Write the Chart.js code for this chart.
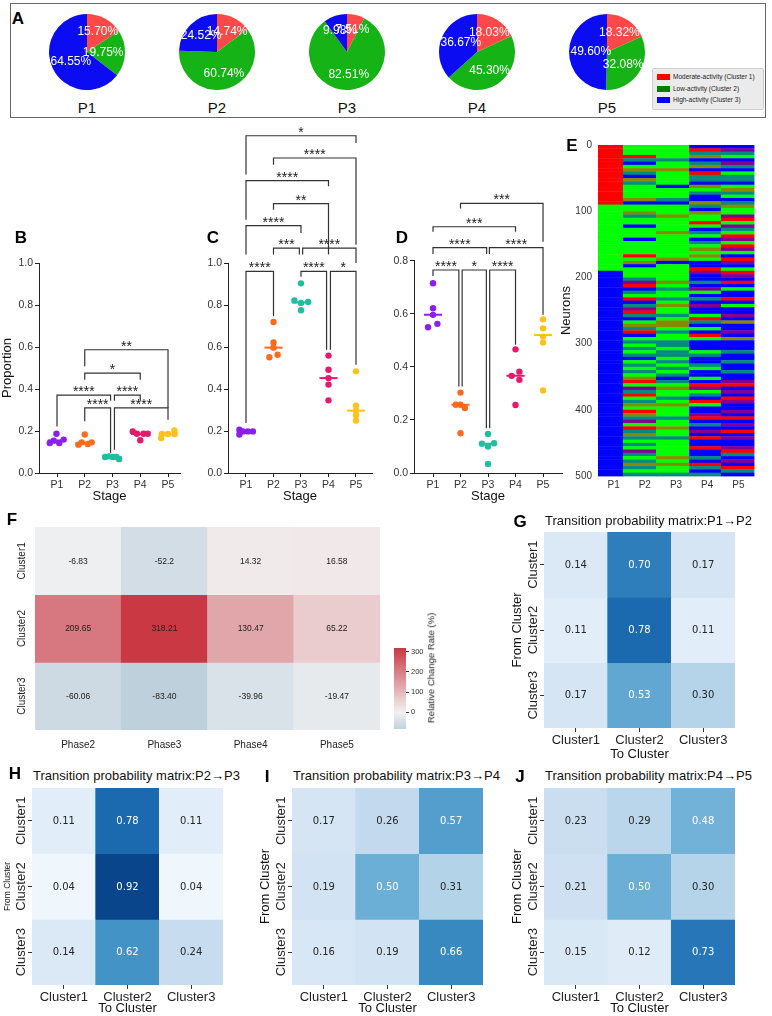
<!DOCTYPE html>
<html><head><meta charset="utf-8">
<script src="https://cdn.jsdelivr.net/npm/chart.js@4.4.1/dist/chart.umd.min.js"></script>
<style>
html,body{margin:0;padding:0;background:#fff;}
body{position:relative;width:772px;height:1016px;overflow:hidden;font-family:"Liberation Sans",Arial,sans-serif;color:#111;}
canvas{position:absolute;}
.lbl{position:absolute;white-space:nowrap;transform:translate(-50%,-50%);line-height:1;}
.letter{font-weight:bold;font-size:17px;color:#000;}
.title{position:absolute;white-space:nowrap;font-size:13px;line-height:1;transform:translateY(-50%);color:#111;}
#boxA{position:absolute;left:10px;top:3px;width:754px;height:113px;border:1px solid #666;}
#legA{position:absolute;left:652px;top:68px;width:110px;height:40px;background:#ebebeb;border:1px solid #cfcfcf;border-radius:2px;font-size:6.5px;color:#222;}
.legrow{position:absolute;left:4px;height:8px;line-height:8px;white-space:nowrap;}
.sw{display:inline-block;width:13px;height:6px;vertical-align:middle;margin-right:3px;}
</style></head><body>
<div id="boxA"></div>
<div id="legA"></div>
<script>
// ================= DATA =================
const stageLabels = ['P1','P2','P3','P4','P5'];
const clusterLegend = ['Moderate-activity (Cluster 1)','Low-activity (Cluster 2)','High-activity (Cluster 3)'];
const pieModerate = [15.70,14.74,7.51,18.03,18.32];
const pieLow      = [19.75,60.74,82.51,45.30,32.08];
const pieHigh     = [64.55,24.52,9.98,36.67,49.60];

// Panel B (Cluster 1 proportion per animal)
const propModerate = [[0.143,0.154,0.187,0.143,0.159],[0.135,0.146,0.183,0.138,0.146],[0.076,0.079,0.076,0.076,0.066],[0.198,0.187,0.156,0.187,0.187],[0.167,0.186,0.186,0.203,0.186]];
const jitterModerate = [[-0.26,-0.12,-0.02,0.08,0.24],[-0.23,-0.11,0,0.11,0.25],[-0.27,-0.12,0.02,0.14,0.24],[-0.27,-0.12,0,0.12,0.27],[-0.25,-0.22,0,0.23,0.24]];
const medianModerate = [0.155,0.142,0.076,0.186,0.184];
const bracketsModerate = [
  {a:2,b:3,top:0.31,endA:0.246,endB:0.095,text:'****',offA:0,offB:-0.07},
  {a:3,b:5,top:0.31,endA:0.111,endB:0.254,text:'****',offA:0.07,offB:0},
  {a:1,b:3,top:0.371,endA:0.222,endB:0.344,text:'****',offA:0,offB:-0.07},
  {a:3,b:4,top:0.371,endA:0.344,endB:0.344,text:'****',offA:0.07,offB:0},
  {a:2,b:4,top:0.476,endA:0.444,endB:0.444,text:'*',offA:0,offB:0},
  {a:2,b:5,top:0.587,endA:0.508,endB:0.31,text:'**',offA:0,offB:0}
];
// Panel C (Cluster 2)
const propLow = [[0.183,0.206,0.198,0.198,0.198],[0.719,0.622,0.597,0.551,0.563],[0.903,0.822,0.81,0.814,0.775],[0.559,0.492,0.452,0.421,0.346],[0.484,0.32,0.297,0.275,0.25]];
const jitterLow = [[-0.24,-0.24,-0.11,0.07,0.25],[0,0,0,-0.15,0.15],[0,-0.24,0,0.26,0],[0,0,0,0,0],[0,0,0,0,0]];
const medianLow = [0.198,0.597,0.812,0.452,0.297];
const bracketsLow = [
  {a:1,b:2,top:0.96,endA:0.238,endB:0.746,text:'****',offA:0,offB:0},
  {a:3,b:4,top:0.96,endA:0.935,endB:0.587,text:'****',offA:0,offB:-0.07},
  {a:4,b:5,top:0.96,endA:0.587,endB:0.516,text:'*',offA:0.07,offB:0},
  {a:2,b:3,top:1.071,endA:1.04,endB:1.04,text:'***',offA:0,offB:-0.06},
  {a:3,b:5,top:1.071,endA:1.04,endB:1.0,text:'****',offA:0.06,offB:0},
  {a:1,b:3,top:1.178,endA:1.04,endB:1.143,text:'****',offA:0,offB:0},
  {a:2,b:4,top:1.283,endA:1.254,endB:1.04,text:'**',offA:0,offB:0},
  {a:1,b:4,top:1.392,endA:1.206,endB:1.365,text:'****',offA:0,offB:0},
  {a:2,b:5,top:1.5,endA:1.468,endB:1.087,text:'****',offA:0,offB:0},
  {a:1,b:5,top:1.606,endA:1.421,endB:1.571,text:'*',offA:0,offB:0}
];
// Panel D (Cluster 3)
const propHigh = [[0.715,0.621,0.596,0.549,0.562],[0.303,0.257,0.257,0.245,0.15],[0.147,0.11,0.10,0.112,0.034],[0.466,0.366,0.382,0.351,0.256],[0.579,0.545,0.514,0.492,0.311]];
const jitterHigh = [[0,0,0,-0.18,0.16],[0,-0.17,0,0.16,0],[0,-0.22,0,0.22,0],[0,-0.14,0.14,0.14,0],[0,0,0,0,0]];
const medianHigh = [0.596,0.257,0.11,0.366,0.52];
const bracketsHigh = [
  {a:1,b:2,top:0.765,endA:0.742,endB:0.326,text:'****',offA:0,offB:-0.06},
  {a:2,b:3,top:0.765,endA:0.326,endB:0.169,text:'*',offA:0.06,offB:-0.06},
  {a:3,b:4,top:0.765,endA:0.169,endB:0.483,text:'****',offA:0.06,offB:0},
  {a:1,b:3,top:0.849,endA:0.825,endB:0.825,text:'****',offA:0,offB:-0.05},
  {a:3,b:5,top:0.849,endA:0.825,endB:0.596,text:'****',offA:0.05,offB:0},
  {a:1,b:4,top:0.928,endA:0.909,endB:0.909,text:'***',offA:0,offB:0},
  {a:2,b:5,top:1.016,endA:0.997,endB:0.871,text:'***',offA:0,offB:0}
];

// Panel E: cluster state per neuron, one character per 5 neurons (R=1, G=2, B=3; T/O/P = mixed stripes)
const neuronTicks = [0,100,200,300,400,500];
const statesP1 = ['RRRRRRRRRR','RRRRRRRRGG','GGGGGGGGGG','GGGGGGGGBB','BBBBBBBBBB','BBBBBBBBBB','BBBBBBBBBB','BBBBBBBBBB','BBBBBBBBBB','BBBBBBBBBB'];
const statesP2 = ['GGGRTBGOTB','OTGGGGOBGG','OTGGBGGGBG','GGGRGOBGGG','TPRBTGRBTP','RTBGOTRBGT','GTGTBGTGTG','ORGPTRGTOG','ROTPGRTOTG','TGPTGTOTGT'];
const statesP3 = ['GGGGTGGOGG','GGBGGGTBGG','GOGGGGOGGG','GGGGOBGGGG','GOGTGGTGOG','GTGOOGTGGT','TGTTGTGTGT','BTGOGGTGOG','GGTGGOGGTG','GGGGOGOGGT'];
const statesP4 = ['BRTOBTOBRT','TBOGTBBOTB','OGGRGBTGBT','GOGOGBBRPB','BTBPGBTBPB','BGRTBGBRGB','BBGTBBTGBB','GBRPGTBRGB','BPRBTBPBRB','BRBBTBRTBT'];
const statesP5 = ['BPTGBPTBGT','TBGOTGBTOG','GPRGPTGRPG','RPGBRPBGRP','BRBGBBRBGB','BPBOBBPBOB','BBTBBTBBTB','BPRBPBRPBB','PBRBPBRBPB','BPRTBPBRTB'];
const stageBandEdges = [0.5,1.3,2.36,3.42,4.44,5.5];

// Panel F
const phaseLabels = ['Phase2','Phase3','Phase4','Phase5'];
const clusterTicks = ['Cluster1','Cluster2','Cluster3'];
const changeCluster1 = ['-6.83','-52.2','14.32','16.58'];
const changeCluster2 = ['209.65','318.21','130.47','65.22'];
const changeCluster3 = ['-60.06','-83.40','-39.96','-19.47'];
const changeTicks = [0,100,200,300];

// Panels G-J transition matrices (rows: from, cols: to)
const transP1P2 = [[0.14,0.70,0.17],[0.11,0.78,0.11],[0.17,0.53,0.30]];
const transP2P3 = [[0.11,0.78,0.11],[0.04,0.92,0.04],[0.14,0.62,0.24]];
const transP3P4 = [[0.17,0.26,0.57],[0.19,0.50,0.31],[0.16,0.19,0.66]];
const transP4P5 = [[0.23,0.29,0.48],[0.21,0.50,0.30],[0.15,0.12,0.73]];

// ================= STYLE / HELPERS =================
const FONT = '"Liberation Sans", Arial, sans-serif';
Chart.defaults.font.family = FONT;
Chart.defaults.color = '#222';
Chart.defaults.animation = false;
Chart.defaults.responsive = false;
Chart.defaults.devicePixelRatio = 1;
Chart.defaults.plugins.legend.display = false;
Chart.defaults.plugins.tooltip.enabled = false;

const pieColors = ['#ff4848','#16b316','#0c0cf2'];
const legendColors = ['#ff0000','#007f00','#0000ff'];
const stageColors = ['#8b1ef0','#ff6b1a','#1dbf9f','#e8186d','#ffc21c'];
const stateColors = {R:'#ff0000',G:'#00ff00',B:'#0000ff',T:'#008a80',O:'#868a00',P:'#840090'};

function mk(e){const c=document.createElement('canvas');c.width=Math.round(e.r-e.l);c.height=Math.round(e.b-e.t);c.style.left=e.l+'px';c.style.top=e.t+'px';document.body.appendChild(c);return c;}
function pad(a,e,yw,xh){return {left:a.l-e.l-yw,top:a.t-e.t,right:e.r-a.r,bottom:e.b-a.b-xh};}
function fit(n){return s=>{if(s.isHorizontal())s.height=n;else s.width=n;s.paddingLeft=0;s.paddingRight=0;s.paddingTop=0;s.paddingBottom=0;};}
function fixTicks(arr){return s=>{s.ticks=arr.map(v=>({value:v}));};}
function txt(t,x,y,cls,style){const d=document.createElement('div');d.className=cls;d.textContent=t;d.style.left=x+'px';d.style.top=y+'px';if(style)Object.assign(d.style,style);document.body.appendChild(d);return d;}
function hex(h){return [parseInt(h.slice(1,3),16),parseInt(h.slice(3,5),16),parseInt(h.slice(5,7),16)];}
function mix(a,b,f){return a.map((x,k)=>Math.round(x+(b[k]-x)*f));}
function css(c){return 'rgb('+c[0]+','+c[1]+','+c[2]+')';}
function lum(c){const l=c.map(x=>{x/=255;return x<=0.03928?x/12.92:Math.pow((x+0.055)/1.055,2.4);});return 0.2126*l[0]+0.7152*l[1]+0.0722*l[2];}
const bluesStops=['#f7fbff','#deebf7','#c6dbef','#9ecae1','#6baed6','#4292c6','#2171b5','#08519c','#08306b'].map(hex);
function blues(v){const t=Math.max(0,Math.min(1,v))*8;const i=Math.min(7,Math.floor(t));return mix(bluesStops[i],bluesStops[i+1],t-i);}
const changeAll=[changeCluster1,changeCluster2,changeCluster3].map(r=>r.map(parseFloat));
const changeMax=Math.max(...changeAll.flat()), changeMin=Math.min(...changeAll.flat());
const divMid=[242,242,242], divNeg=[46,111,161], divPos=[201,56,67];
function divColor(v){const m=Math.max(Math.abs(changeMax),Math.abs(changeMin));const t=Math.max(-1,Math.min(1,v/m));return mix(divMid,t<0?divNeg:divPos,Math.abs(t));}

// ================= PANEL A: PIES =================
const pieCenterX=[87,217,347,477,607], pieCenterY=52, pieR=38;
const pieLabelPlugin={id:'pieLabels',afterDatasetsDraw(chart){const ctx=chart.ctx;const meta=chart.getDatasetMeta(0);ctx.save();ctx.fillStyle='#fff';ctx.font='12px '+FONT;ctx.textAlign='center';ctx.textBaseline='middle';
  meta.data.forEach((arc,k)=>{const p=arc.getProps(['x','y','startAngle','endAngle','outerRadius']);const a=(p.startAngle+p.endAngle)/2;const r=p.outerRadius*0.6;
    const s=chart.data.datasets[0].data[k].toFixed(2)+'%';const w=ctx.measureText(s).width;
    let x=p.x+Math.cos(a)*r;const y=p.y+Math.sin(a)*r;
    const lim=p.outerRadius-1.5;
    if(x-w/2<p.x-lim)x=p.x-lim+w/2;
    if(x+w/2>p.x+lim)x=p.x+lim-w/2;
    ctx.fillText(s,x,y);});ctx.restore();}};
stageLabels.forEach((s,i)=>{
  const cv=mk({l:pieCenterX[i]-55,t:pieCenterY-pieR,r:pieCenterX[i]+55,b:pieCenterY+pieR});
  new Chart(cv,{type:'pie',data:{labels:clusterLegend,datasets:[{data:[pieModerate[i],pieLow[i],pieHigh[i]],backgroundColor:pieColors,borderWidth:0}]},options:{layout:{padding:0}},plugins:[pieLabelPlugin]});
  txt(s,pieCenterX[i],107,'lbl',{fontSize:15+'px'});
});
const legA=document.getElementById('legA');
clusterLegend.forEach((n,k)=>{const r=document.createElement('div');r.className='legrow';r.style.top=(4+k*11.5)+'px';r.innerHTML='<span class="sw" style="background:'+legendColors[k]+'"></span>'+n;legA.appendChild(r);});

// ================= PANELS B-D =================
function bracketPlugin(list){return {id:'brackets',afterDraw(ch){const ctx=ch.ctx,xs=ch.scales.x,ys=ch.scales.y;ctx.save();ctx.strokeStyle='#333';ctx.lineWidth=1.2;ctx.fillStyle='#222';ctx.font='14px '+FONT;ctx.textAlign='center';ctx.textBaseline='alphabetic';
  list.forEach(b=>{const xa=xs.getPixelForValue(b.a+b.offA),xb=xs.getPixelForValue(b.b+b.offB),yt=ys.getPixelForValue(b.top);
    ctx.beginPath();ctx.moveTo(xa,ys.getPixelForValue(b.endA));ctx.lineTo(xa,yt);ctx.lineTo(xb,yt);ctx.lineTo(xb,ys.getPixelForValue(b.endB));ctx.stroke();
    ctx.fillText(b.text,(xa+xb)/2,yt+1);});ctx.restore();}};}
function stagePanel(o){
  const cv=mk(o.ext);const ds=[];
  o.values.forEach((vals,i)=>{
    ds.push({data:vals.map((v,k)=>({x:i+1+o.jitter[i][k],y:v})),backgroundColor:stageColors[i],borderWidth:0,pointRadius:3.2,order:1});
    ds.push({data:[{x:i+1-0.33,y:o.median[i]},{x:i+1+0.33,y:o.median[i]}],showLine:true,borderColor:stageColors[i],borderWidth:2,pointRadius:0,order:0});
  });
  new Chart(cv,{type:'scatter',data:{datasets:ds},options:{
    layout:{autoPadding:false,padding:pad(o.area,o.ext,o.yw,31)},
    scales:{
      x:{type:'linear',min:o.xmin,max:o.xmax,afterBuildTicks:fixTicks([1,2,3,4,5]),
         ticks:{callback:v=>stageLabels[v-1],font:{size:10.5},color:'#333',padding:2,maxRotation:0,autoSkip:false},
         grid:{display:true,drawOnChartArea:false,tickLength:4,color:'#222'},border:{display:true,color:'#222',width:1},
         title:{display:true,text:'Stage',font:{size:13},color:'#111',padding:0},afterFit:fit(31)},
      y:{type:'linear',min:0,max:o.ymax,afterBuildTicks:fixTicks(o.yticks),
         ticks:{callback:v=>v.toFixed(1),font:{size:10.5},color:'#333',padding:2},
         grid:{display:true,drawOnChartArea:false,tickLength:4,color:'#222'},border:{display:true,color:'#222',width:1},
         title:{display:!!o.ytitle,text:o.ytitle||'',font:{size:13},color:'#111',padding:0},afterFit:fit(o.yw)}
    }},plugins:[bracketPlugin(o.brackets)]});
}
stagePanel({values:propModerate,jitter:jitterModerate,median:medianModerate,brackets:bracketsModerate,
  area:{l:39,t:263,r:180,b:473},ext:{l:0,t:130,r:190,b:506},yw:39,xmin:0.3514,xmax:5.432,ymax:1,yticks:[0,0.2,0.4,0.6,0.8,1.0],ytitle:'Proportion'});
stagePanel({values:propLow,jitter:jitterLow,median:medianLow,brackets:bracketsLow,
  area:{l:228,t:263,r:372,b:473},ext:{l:190,t:118,r:382,b:506},yw:38,xmin:0.3455,xmax:5.582,ymax:1,yticks:[0,0.2,0.4,0.6,0.8,1.0]});
stagePanel({values:propHigh,jitter:jitterHigh,median:medianHigh,brackets:bracketsHigh,
  area:{l:414,t:260.7,r:562,b:473},ext:{l:380,t:185,r:566,b:506},yw:34,xmin:0.309,xmax:5.69,ymax:0.8,yticks:[0,0.2,0.4,0.6,0.8]});

// ================= PANEL E =================
(function(){
  const area={l:598,t:145,r:754,b:476},ext={l:558,t:135,r:772,b:500};
  const cols=[statesP1,statesP2,statesP3,statesP4,statesP5].map(g=>g.join(''));
  const statePlugin={id:'states',beforeDatasetsDraw(ch){const ctx=ch.ctx,xs=ch.scales.x,ys=ch.scales.y;ctx.save();
    cols.forEach((s,c)=>{const x0=xs.getPixelForValue(stageBandEdges[c]),x1=xs.getPixelForValue(stageBandEdges[c+1]);
      for(let k=0;k<s.length;k++){const y0=ys.getPixelForValue(k*5),y1=ys.getPixelForValue(k*5+5);ctx.fillStyle=stateColors[s[k]];ctx.fillRect(x0,y0,x1-x0+0.4,y1-y0+0.4);}});
    ctx.restore();}};
  const yt=[];for(let v=0;v<=500;v+=50)yt.push(v);
  new Chart(mk(ext),{type:'scatter',data:{datasets:[]},options:{
    layout:{autoPadding:false,padding:pad(area,ext,39,20)},
    scales:{
      x:{type:'linear',min:0.5,max:5.5,z:1,afterBuildTicks:fixTicks([1,2,3,4,5]),ticks:{callback:v=>stageLabels[v-1],font:{size:10},color:'#333',padding:3,maxRotation:0,autoSkip:false},
         grid:{color:'rgba(255,255,255,0.85)',lineWidth:1.3,drawTicks:false},border:{display:false},afterFit:fit(20)},
      y:{type:'linear',min:0,max:500,reverse:true,z:1,afterBuildTicks:fixTicks(yt),ticks:{callback:v=>neuronTicks.includes(v)?String(v):'',font:{size:10},color:'#333',padding:6,autoSkip:false},
         grid:{color:c=>(c.tick&&(c.tick.value===0||c.tick.value===500))?'rgba(0,0,0,0)':'rgba(255,255,255,0.85)',lineWidth:1.3,drawTicks:false},border:{display:false},
         title:{display:true,text:'Neurons',font:{size:13},color:'#111',padding:0},afterFit:fit(39)}
    }},plugins:[statePlugin]});
})();

// ================= HEATMAPS =================
function heatmap(o){
  const cv=mk(o.ext);
  const datasets=o.values.map((row,r)=>({data:row.map(()=>[r,r+1]),backgroundColor:row.map(v=>css(o.color(v))),borderWidth:0,barPercentage:1,categoryPercentage:1,grouped:false}));
  const cellPlugin={id:'cells',afterDatasetsDraw(ch){const ctx=ch.ctx,xs=ch.scales.x,ys=ch.scales.y;ctx.save();ctx.textAlign='center';ctx.textBaseline='middle';
    o.values.forEach((row,r)=>row.forEach((v,c)=>{const col=o.color(v);ctx.font=o.cellFont;ctx.fillStyle=o.textColor(col);ctx.fillText(o.text[r][c],xs.getPixelForValue(c),ys.getPixelForValue(r+0.5)+0.5);}));
    ctx.font=o.rowFont;ctx.fillStyle='#222';
    o.rows.forEach((lab,r)=>{ctx.save();ctx.translate(ch.chartArea.left-o.rowGap,ys.getPixelForValue(r+0.5));ctx.rotate(-Math.PI/2);ctx.fillText(lab,0,0);ctx.restore();});
    ctx.restore();}};
  new Chart(cv,{type:'bar',data:{labels:o.cols,datasets},options:{
    layout:{autoPadding:false,padding:pad(o.area,o.ext,o.yw,o.xh)},
    scales:{
      x:{type:'category',offset:true,ticks:{font:{size:o.xFont},color:'#222',padding:o.xPad,maxRotation:0,autoSkip:false},
         grid:{display:o.ticks,drawOnChartArea:false,offset:false,tickLength:4,color:'#333'},border:{display:false},
         title:{display:!!o.xTitle,text:o.xTitle||'',font:{size:13},color:'#111',padding:0},afterFit:fit(o.xh)},
      y:{type:'linear',min:0,max:o.values.length,reverse:true,afterBuildTicks:fixTicks(o.values.map((_,r)=>r+0.5)),ticks:{display:false},
         grid:{display:o.ticks,drawOnChartArea:false,tickLength:4,color:'#333'},border:{display:false},
         title:{display:!!o.yTitle,text:o.yTitle||'',font:{size:o.yTitleSize||13},color:'#111',padding:0},afterFit:fit(o.yw)}
    }},plugins:[cellPlugin]});
}
// F
heatmap({values:changeAll,text:[changeCluster1,changeCluster2,changeCluster3],cols:phaseLabels,rows:clusterTicks,color:divColor,textColor:()=>'#222',
  cellFont:'8.5px '+FONT,rowFont:'10px '+FONT,rowGap:13,xFont:10,xPad:5,ticks:false,
  area:{l:35,t:527,r:380,b:730},ext:{l:0,t:515,r:385,b:752},yw:35,xh:18});
// colorbar for F
(function(){
  const area={l:394,t:648,r:406,b:729},ext={l:390,t:640,r:440,b:735};
  new Chart(mk(ext),{type:'bar',data:{labels:[''],datasets:[{data:[[changeMin,changeMax]],barPercentage:1,categoryPercentage:1,borderWidth:0,
    backgroundColor:(c)=>{const ch=c.chart;if(!ch.chartArea)return '#ccc';const ys=ch.scales.y;const g=ch.ctx.createLinearGradient(0,ys.getPixelForValue(changeMin),0,ys.getPixelForValue(changeMax));for(let k=0;k<=20;k++){g.addColorStop(k/20,css(divColor(changeMin+(changeMax-changeMin)*k/20)));}return g;}}]},
    options:{layout:{autoPadding:false,padding:{left:area.l-ext.l,top:area.t-ext.t,right:ext.r-area.r-20,bottom:ext.b-area.b}},
      scales:{x:{display:false},y:{position:'right',min:changeMin,max:changeMax,afterBuildTicks:fixTicks(changeTicks),ticks:{font:{size:7.5},color:'#333',padding:2},
        grid:{drawOnChartArea:false,tickLength:3,color:'#333'},border:{display:false},afterFit:fit(20)}}}});
  txt('Relative Change Rate (%)',431,668,'lbl',{fontSize:'9.5px',transform:'translate(-50%,-50%) rotate(-90deg)',color:'#222'});
})();
// G-J
const tFont='10px "DejaVu Sans", sans-serif';
const tColor=c=>lum(c)>0.408?'#262626':'#ffffff';
function trans(m,area,ext,yw,xh,yTitleSize){heatmap({values:m,text:m.map(r=>r.map(v=>v.toFixed(2))),cols:clusterTicks,rows:clusterTicks,color:blues,textColor:tColor,
  cellFont:tFont,rowFont:'13px '+FONT,rowGap:11,xFont:13,xPad:1,ticks:true,xTitle:'To Cluster',yTitle:'From Cluster',yTitleSize,area,ext,yw,xh});}
trans(transP1P2,{l:544,t:532,r:735,b:728},{l:505,t:528,r:772,b:765},34,33.8,13);
trans(transP2P3,{l:32,t:788,r:223,b:985},{l:0,t:784,r:250,b:1016},29,31,8.5);
trans(transP3P4,{l:292,t:788,r:483,b:985},{l:250,t:784,r:505,b:1016},34.8,31,13);
trans(transP4P5,{l:544,t:788,r:735,b:985},{l:505,t:784,r:772,b:1016},34,31,13);

// titles & panel letters
txt('Transition probability matrix:P1\u2192P2',545,520,'title');
txt('Transition probability matrix:P2\u2192P3',33,775,'title');
txt('Transition probability matrix:P3\u2192P4',293,775,'title');
txt('Transition probability matrix:P4\u2192P5',545,775,'title');
[['A',18,18],['B',21,237],['C',213,237],['D',402,237],['E',572,145],['F',12,519],['G',520,521],['H',15,773],['I',267,776],['J',520,776]].forEach(l=>txt(l[0],l[1],l[2],'lbl letter'));
</script></body></html>
